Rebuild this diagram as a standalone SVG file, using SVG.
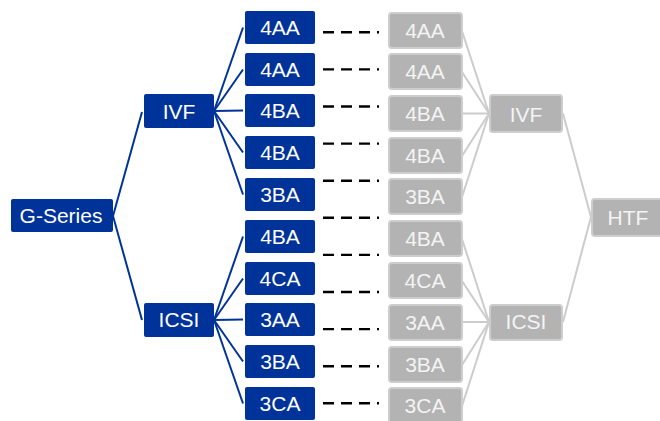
<svg xmlns="http://www.w3.org/2000/svg" width="660" height="421" viewBox="0 0 660 421">
<style>
.b rect{fill:#003399;}
.g rect{fill:#b3b3b3;stroke:#cdcdcd;stroke-width:2;}
text{font-family:"Liberation Sans",Arial,sans-serif;font-size:21px;text-anchor:middle;}
.b text{fill:#ffffff;}
.g text{fill:#f4f4f4;}
.cb{stroke:#003399;stroke-width:2;fill:none;}
.cg{stroke:#cccccc;stroke-width:2;fill:none;}
.d{stroke:#000000;stroke-width:2.4;stroke-dasharray:11 7;fill:none;}
</style>
<rect width="660" height="421" fill="#ffffff"/>
<g id="connectors">
<g class="cb">
<line x1="113" y1="216" x2="142" y2="112"/>
<line x1="113" y1="216" x2="142" y2="320"/>
<line x1="214" y1="111" x2="243" y2="27.5"/>
<line x1="214" y1="111" x2="243" y2="69.5"/>
<line x1="214" y1="111" x2="243" y2="110.5"/>
<line x1="214" y1="111" x2="243" y2="152.5"/>
<line x1="214" y1="111" x2="243" y2="194.5"/>
<line x1="214" y1="320" x2="243" y2="236.5"/>
<line x1="214" y1="320" x2="243" y2="278.5"/>
<line x1="214" y1="320" x2="243" y2="319.5"/>
<line x1="214" y1="320" x2="243" y2="361.5"/>
<line x1="214" y1="320" x2="243" y2="403.5"/>
</g>
<g class="cg">
<line x1="462" y1="31" x2="489" y2="113.5"/>
<line x1="462" y1="72" x2="489" y2="113.5"/>
<line x1="462" y1="113.5" x2="489" y2="113.5"/>
<line x1="462" y1="156" x2="489" y2="113.5"/>
<line x1="462" y1="197" x2="489" y2="113.5"/>
<line x1="462" y1="239" x2="489" y2="322"/>
<line x1="462" y1="281" x2="489" y2="322"/>
<line x1="462" y1="322" x2="489" y2="322"/>
<line x1="462" y1="365" x2="489" y2="322"/>
<line x1="462" y1="406" x2="489" y2="322"/>
<line x1="563" y1="113.5" x2="591" y2="217"/>
<line x1="563" y1="322" x2="591" y2="217"/>
</g>
<g class="d">
<line x1="323" y1="32.3" x2="379" y2="32.3"/>
<line x1="323" y1="69.4" x2="379" y2="69.4"/>
<line x1="323" y1="106.5" x2="379" y2="106.5"/>
<line x1="323" y1="143.6" x2="379" y2="143.6"/>
<line x1="323" y1="180.7" x2="379" y2="180.7"/>
<line x1="323" y1="217.8" x2="379" y2="217.8"/>
<line x1="323" y1="254.9" x2="379" y2="254.9"/>
<line x1="323" y1="292" x2="379" y2="292"/>
<line x1="323" y1="329.1" x2="379" y2="329.1"/>
<line x1="323" y1="366.2" x2="379" y2="366.2"/>
<line x1="323" y1="403.3" x2="379" y2="403.3"/>
</g>
</g>
<g id="g-series" class="b"><rect x="11" y="199" width="102" height="33" rx="2"/><text x="61" y="222.5">G-Series</text></g>
<g id="ivf" class="b"><rect x="144" y="94" width="70" height="34" rx="2"/><text x="179" y="118.5">IVF</text></g>
<g id="icsi" class="b"><rect x="144" y="303" width="70" height="34" rx="2"/><text x="179" y="327">ICSI</text></g>
<g id="b1" class="b"><rect x="245" y="11" width="70" height="33" rx="2"/><text x="280" y="35">4AA</text></g>
<g id="b2" class="b"><rect x="245" y="53" width="70" height="33" rx="2"/><text x="280" y="77">4AA</text></g>
<g id="b3" class="b"><rect x="245" y="94" width="70" height="33" rx="2"/><text x="280" y="118">4BA</text></g>
<g id="b4" class="b"><rect x="245" y="136" width="70" height="33" rx="2"/><text x="280" y="160">4BA</text></g>
<g id="b5" class="b"><rect x="245" y="178" width="70" height="33" rx="2"/><text x="280" y="202">3BA</text></g>
<g id="b6" class="b"><rect x="245" y="220" width="70" height="33" rx="2"/><text x="280" y="244">4BA</text></g>
<g id="b7" class="b"><rect x="245" y="262" width="70" height="33" rx="2"/><text x="280" y="286">4CA</text></g>
<g id="b8" class="b"><rect x="245" y="303" width="70" height="33" rx="2"/><text x="280" y="327">3AA</text></g>
<g id="b9" class="b"><rect x="245" y="345" width="70" height="33" rx="2"/><text x="280" y="369">3BA</text></g>
<g id="b10" class="b"><rect x="245" y="387" width="70" height="33" rx="2"/><text x="280" y="411">3CA</text></g>
<g id="g1" class="g"><rect x="389" y="13" width="73" height="35" rx="3"/><text x="425" y="37.5">4AA</text></g>
<g id="g2" class="g"><rect x="389" y="54" width="73" height="35" rx="3"/><text x="425" y="78.5">4AA</text></g>
<g id="g3" class="g"><rect x="389" y="96" width="73" height="35" rx="3"/><text x="425" y="120.5">4BA</text></g>
<g id="g4" class="g"><rect x="389" y="138" width="73" height="35" rx="3"/><text x="425" y="162.5">4BA</text></g>
<g id="g5" class="g"><rect x="389" y="179" width="73" height="35" rx="3"/><text x="425" y="203.5">3BA</text></g>
<g id="g6" class="g"><rect x="389" y="221" width="73" height="35" rx="3"/><text x="425" y="245.5">4BA</text></g>
<g id="g7" class="g"><rect x="389" y="263" width="73" height="35" rx="3"/><text x="425" y="287.5">4CA</text></g>
<g id="g8" class="g"><rect x="389" y="305" width="73" height="35" rx="3"/><text x="425" y="329.5">3AA</text></g>
<g id="g9" class="g"><rect x="389" y="347" width="73" height="35" rx="3"/><text x="425" y="371.5">3BA</text></g>
<g id="g10" class="g"><rect x="389" y="388" width="73" height="35" rx="3"/><text x="425" y="412.5">3CA</text></g>
<g id="g-ivf" class="g"><rect x="490" y="95" width="72" height="37" rx="3"/><text x="526" y="121.5">IVF</text></g>
<g id="g-icsi" class="g"><rect x="490" y="305" width="72" height="35" rx="3"/><text x="526" y="328.5">ICSI</text></g>
<g id="htf" class="g"><rect x="592" y="199" width="72" height="37" rx="3"/><text x="628" y="224.5">HTF</text></g>
</svg>
